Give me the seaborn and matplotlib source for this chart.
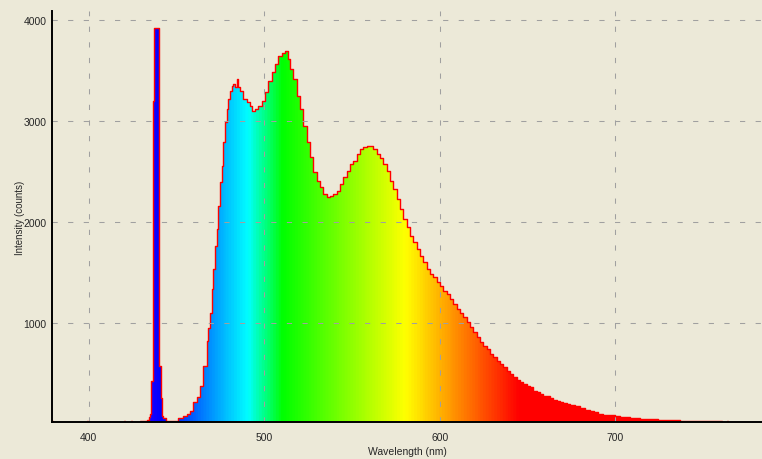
import numpy as np
import matplotlib
matplotlib.use('Agg')
import matplotlib.pyplot as plt
import seaborn as sns
from matplotlib.colors import LinearSegmentedColormap, Normalize

# Спектр (левая граница каждого шага, нм) и интенсивность (counts)
wavelength = [
    379.0, 379.6, 399.0, 399.6, 420.0, 420.6, 424.0, 424.6, 429.0, 431.7,
    433.2, 434.2, 434.8, 435.3, 436.3, 436.6, 437.0, 439.7, 440.1, 440.9,
    441.6, 442.3, 443.9, 450.9, 453.7, 455.7, 457.5, 459.4, 461.4, 463.2,
    465.1, 467.1, 468.0, 468.9, 469.9, 470.8, 471.8, 472.8, 473.7, 474.6,
    475.6, 476.5, 477.5, 478.5, 479.4, 480.3, 481.3, 482.2, 483.2, 484.2,
    485.0, 486.0, 487.9, 489.9, 491.7, 493.0, 494.6, 496.5, 498.4, 500.3,
    502.2, 504.1, 506.0, 507.9, 509.8, 511.7, 513.6, 514.5, 516.4, 518.3,
    520.2, 522.1, 524.0, 525.9, 527.8, 529.7, 531.6, 533.5, 535.4, 537.3,
    539.2, 541.1, 543.0, 544.9, 546.8, 548.7, 550.6, 552.5, 554.4, 556.3,
    558.2, 560.1, 562.0, 563.9, 565.8, 567.7, 569.6, 571.5, 573.4, 575.3,
    577.2, 579.1, 581.0, 582.9, 584.8, 586.7, 588.6, 590.5, 592.4, 594.3,
    596.2, 598.1, 600.0, 601.9, 603.8, 605.7, 607.6, 609.5, 611.4, 613.3,
    615.2, 617.1, 619.0, 620.9, 622.8, 624.7, 626.6, 628.5, 630.4, 632.3,
    634.2, 636.1, 638.0, 639.9, 641.8, 643.7, 645.6, 647.5, 649.4, 651.3,
    653.2, 655.1, 657.0, 658.9, 660.8, 662.7, 664.6, 666.5, 668.4, 670.3,
    672.2, 674.1, 676.9, 679.8, 682.6, 685.5, 688.0, 690.0, 692.9, 695.2,
    699.7, 702.6, 708.3, 714.0, 724.2, 736.8, 751.6, 760.7, 763.3, 764.0,
    783.5,
]
counts = [
    30, 5, 25, 5, 28, 5, 25, 5, 25, 33,
    43, 67, 100, 430, 920, 3200, 3920, 3450, 577, 254,
    82, 59, 30, 56, 76, 99, 130, 215, 270, 380,
    577, 820, 950, 1100, 1337, 1535, 1765, 1931, 2161, 2393,
    2558, 2789, 2987, 3119, 3218, 3300, 3350, 3366, 3340, 3416,
    3340, 3300, 3218, 3185, 3152, 3100, 3119, 3152, 3201, 3284,
    3399, 3482, 3564, 3647, 3673, 3690, 3614, 3515, 3416, 3251,
    3119, 2953, 2789, 2640, 2492, 2409, 2343, 2277, 2244, 2260,
    2277, 2310, 2376, 2442, 2508, 2574, 2607, 2673, 2723, 2739,
    2749, 2756, 2723, 2673, 2630, 2574, 2508, 2409, 2327, 2228,
    2129, 2030, 1947, 1864, 1799, 1733, 1667, 1601, 1535, 1485,
    1452, 1403, 1370, 1320, 1287, 1238, 1188, 1139, 1100, 1056,
    1007, 957, 908, 858, 809, 775, 743, 693, 660, 627,
    594, 561, 528, 495, 462, 436, 413, 396, 380, 363,
    330, 314, 297, 280, 274, 257, 241, 231, 215, 205,
    198, 191, 175, 160, 140, 125, 116, 99, 92, 89,
    79, 69, 59, 50, 40, 33, 30, 10, 28, 5,
    5,
]

x_major = [400, 500, 600, 700]
x_minor = [450, 550, 650, 750]
y_major = [1000, 2000, 3000, 4000]
y_minor = [500, 1500, 2500, 3500]

bg = '#ECE9D8'
sns.set_style('white')
plt.rcParams['font.family'] = ['Liberation Sans', 'DejaVu Sans']

fig = plt.figure(figsize=(7.62, 4.60), dpi=100, facecolor=bg)
ax = fig.add_axes([52 / 762, 37 / 460, 1 - 52 / 762, 411 / 460])
ax.set_facecolor(bg)

xmin, xmax = 379, 783.5
ymin, ymax = 20, 4090

# Цвета спектра по длине волны
stops = [(380, (1, 0, 1)), (440, (0, 0, 1)), (490, (0, 1, 1)), (510, (0, 1, 0)),
         (580, (1, 1, 0)), (645, (1, 0, 0)), (783.5, (1, 0, 0))]
cmap = LinearSegmentedColormap.from_list(
    'spectrum', [((w - 380) / (783.5 - 380), c) for w, c in stops])

poly = ax.fill_between(wavelength, counts, 0, step='post',
                       facecolor='none', edgecolor='none')
grad = np.linspace(380, 783.5, 1000).reshape(1, -1)
img = ax.imshow(grad, extent=[380, 783.5, 0, ymax], aspect='auto', cmap=cmap,
                norm=Normalize(380, 783.5), origin='lower', zorder=1,
                interpolation='bilinear')
img.set_clip_path(poly.get_paths()[0], transform=ax.transData)

sns.lineplot(x=wavelength, y=counts, drawstyle='steps-post', color='#FF0000',
             linewidth=1.0, ax=ax, sort=False, estimator=None, zorder=2)

ax.set_xlim(xmin, xmax)
ax.set_ylim(ymin, ymax)
ax.set_xticks(x_major)
ax.set_xticks(x_minor, minor=True)
ax.set_yticks(y_major)
ax.set_yticks(y_minor, minor=True)
ax.grid(True, which='major', color='#A0A0A0', linestyle=(0, (5, 10)), linewidth=0.75)
ax.set_axisbelow(False)

for s in ['top', 'right']:
    ax.spines[s].set_visible(False)
for s in ['left', 'bottom']:
    ax.spines[s].set_color('black')
    ax.spines[s].set_linewidth(1.4)
    ax.spines[s].set_zorder(3)

ax.tick_params(axis='x', which='both', direction='out', length=4, width=1,
               color='black', labelsize=7.5, pad=3)
ax.tick_params(axis='y', which='major', direction='inout', length=7, width=1,
               color='black', labelsize=7.5, pad=0.5)
ax.tick_params(axis='y', which='minor', direction='inout', length=5, width=1,
               color='black')

ax.set_xlabel('Wavelength (nm)', fontsize=7.5, labelpad=3)
ax.set_ylabel('Intensity (counts)', fontsize=7, labelpad=-1)

fig.savefig('out.png', dpi=100, facecolor=bg)
